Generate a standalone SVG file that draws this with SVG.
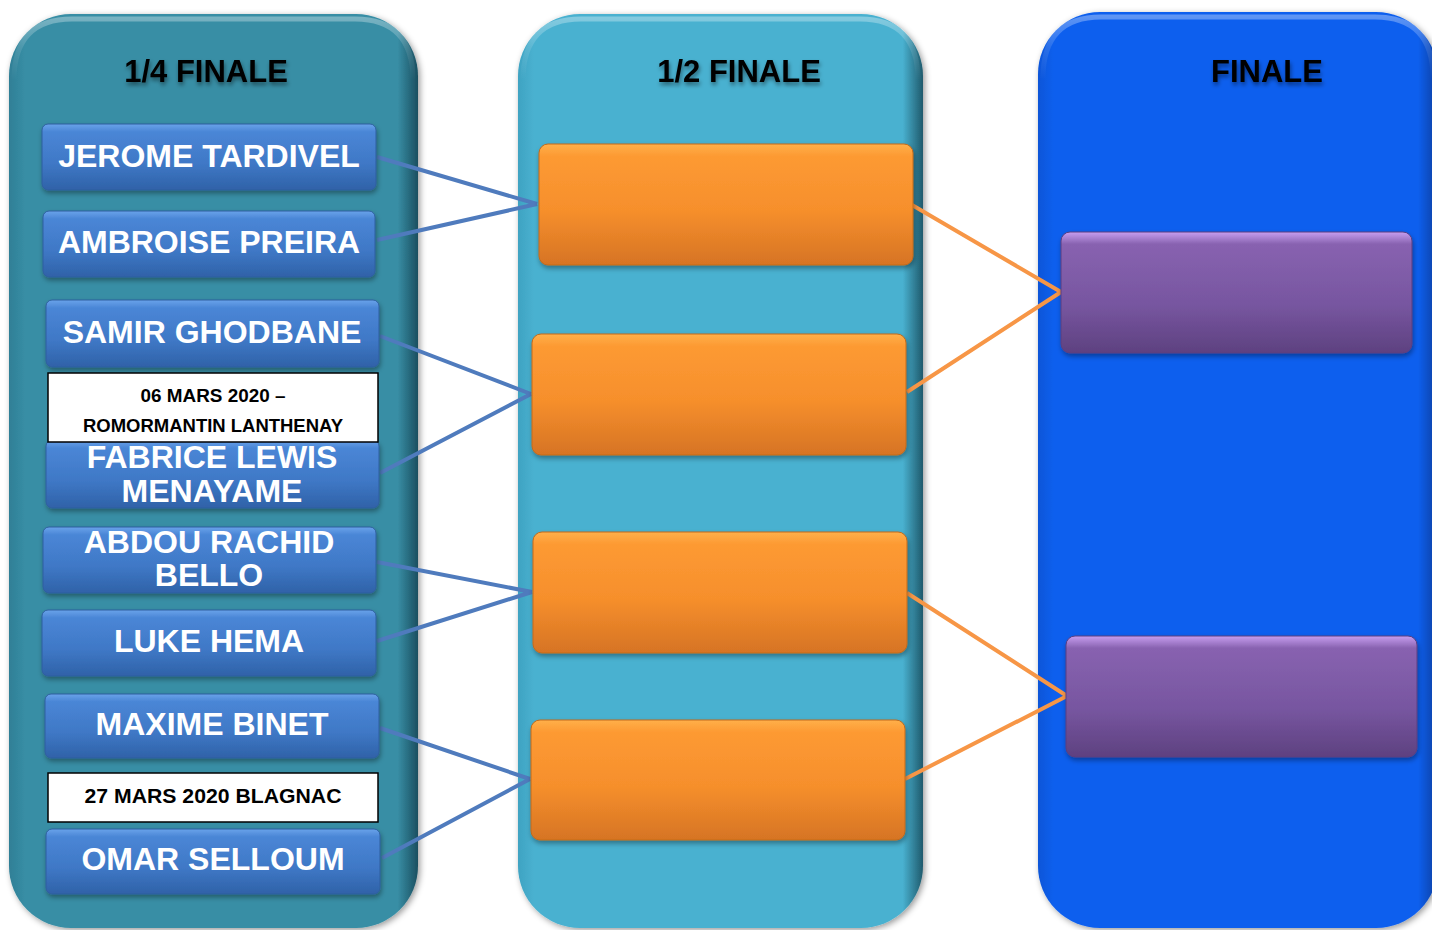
<svg xmlns="http://www.w3.org/2000/svg" width="1432" height="930" viewBox="0 0 1432 930">
<style>
.title{font-family:"Liberation Sans",Arial,sans-serif;font-weight:bold;font-size:31px;fill:#000;text-anchor:middle;filter:url(#tsh)}
.name{font-family:"Liberation Sans",Arial,sans-serif;font-weight:bold;font-size:32px;fill:#fff;text-anchor:middle}
.date{font-family:"Liberation Sans",Arial,sans-serif;font-weight:bold;fill:#000;text-anchor:middle}
.btn{fill:url(#gBlue);stroke:#2f5f9e;stroke-width:1;filter:url(#sh)}
.org{fill:url(#gOrange);stroke:#c46a1a;stroke-width:1;filter:url(#sh)}
.pur{fill:url(#gPurple);stroke:#5a3f80;stroke-width:1;filter:url(#sh)}
.hl{fill:none;stroke:url(#gHl);stroke-width:5}
.cb{stroke:#4f7bbd;stroke-width:4;fill:none}
.co{stroke:#f79646;stroke-width:4;fill:none}
.datebox{fill:#fff;stroke:#000;stroke-width:1.5}
</style>
<defs>
<linearGradient id="gHl" gradientUnits="userSpaceOnUse" x1="0" y1="14" x2="0" y2="80">
<stop offset="0" stop-color="#fff" stop-opacity="0.35"/><stop offset="0.5" stop-color="#fff" stop-opacity="0.12"/><stop offset="1" stop-color="#fff" stop-opacity="0"/>
</linearGradient>
<linearGradient id="gBlue" x1="0" y1="0" x2="0" y2="1">
<stop offset="0" stop-color="#6aa3ea"/><stop offset="0.12" stop-color="#4a86d6"/><stop offset="0.6" stop-color="#3f78c6"/><stop offset="1" stop-color="#2f62a8"/>
</linearGradient>
<linearGradient id="gOrange" x1="0" y1="0" x2="0" y2="1">
<stop offset="0" stop-color="#ffb04a"/><stop offset="0.1" stop-color="#fd9a33"/><stop offset="0.55" stop-color="#f68f2c"/><stop offset="1" stop-color="#d67424"/>
</linearGradient>
<linearGradient id="gPurple" x1="0" y1="0" x2="0" y2="1">
<stop offset="0" stop-color="#c79ef0"/><stop offset="0.1" stop-color="#8862b0"/><stop offset="0.6" stop-color="#7756a0"/><stop offset="1" stop-color="#5e4180"/>
</linearGradient>
<linearGradient id="gP1" x1="0" y1="0" x2="1" y2="0">
<stop offset="0" stop-color="#2f7f96"/><stop offset="0.04" stop-color="#388ea5"/><stop offset="0.95" stop-color="#388ea5"/><stop offset="1" stop-color="#1b4f60"/>
</linearGradient>
<linearGradient id="gP2" x1="0" y1="0" x2="1" y2="0">
<stop offset="0" stop-color="#3fa3c2"/><stop offset="0.04" stop-color="#49b1d0"/><stop offset="0.95" stop-color="#49b1d0"/><stop offset="1" stop-color="#1f5a6c"/>
</linearGradient>
<linearGradient id="gP3" x1="0" y1="0" x2="1" y2="0">
<stop offset="0" stop-color="#0a56d8"/><stop offset="0.04" stop-color="#0b5fee"/><stop offset="0.95" stop-color="#0b5fee"/><stop offset="1" stop-color="#083f9e"/>
</linearGradient>
<filter id="sh" x="-5%" y="-10%" width="110%" height="130%">
<feDropShadow dx="1" dy="3" stdDeviation="2.5" flood-color="#000" flood-opacity="0.35"/>
</filter>
<filter id="psh" x="-5%" y="-5%" width="110%" height="110%">
<feDropShadow dx="2" dy="2" stdDeviation="3" flood-color="#000" flood-opacity="0.4"/>
</filter>
<filter id="tsh" x="-10%" y="-20%" width="120%" height="160%">
<feDropShadow dx="1" dy="3" stdDeviation="2" flood-color="#000" flood-opacity="0.45"/>
</filter>
</defs>

<g id="panel-quarter">
<rect x="9" y="14" width="409" height="914" rx="62" fill="url(#gP1)" filter="url(#psh)"/>
<path d="M14,80 Q14,19 72,19 L355,19 Q413,19 413,80" class="hl"/>
<text class="title" x="206" y="82">1/4 FINALE</text>
</g>
<g id="panel-semi">
<rect x="518" y="14" width="405" height="914" rx="62" fill="url(#gP2)" filter="url(#psh)"/>
<path d="M523,80 Q523,19 581,19 L860,19 Q918,19 918,80" class="hl"/>
<text class="title" x="739" y="82">1/2 FINALE</text>
</g>
<g id="panel-final">
<rect x="1038" y="12" width="400" height="916" rx="62" fill="url(#gP3)" filter="url(#psh)"/>
<path d="M1043,78 Q1043,17 1101,17 L1375,17 Q1433,17 1433,78" class="hl"/>
<text class="title" x="1267" y="82">FINALE</text>
</g>

<g id="connectors">
<path class="cb" d="M377,157 L537,204 M377,240 L537,204"/>
<path class="cb" d="M380,336 L531,394 M380,473 L531,394"/>
<path class="cb" d="M377,562 L532,592 M377,641 L532,592"/>
<path class="cb" d="M380,728 L530,779 M382,858 L530,779"/>
<path class="co" d="M912,205 L1061,292 M907,392 L1061,292"/>
<path class="co" d="M907,593 L1067,696 M905,779 L1067,696"/>
</g>

<g id="p-tardivel"><rect class="btn" x="42" y="124" width="334" height="66" rx="6"/><text class="name" x="209" y="167">JEROME TARDIVEL</text></g>
<g id="p-preira"><rect class="btn" x="43" y="211" width="332" height="66" rx="6"/><text class="name" x="209" y="253">AMBROISE PREIRA</text></g>
<g id="p-ghodbane"><rect class="btn" x="46" y="300" width="333" height="67" rx="6"/><text class="name" x="212" y="343">SAMIR GHODBANE</text></g>
<g id="p-menayame"><rect class="btn" x="46" y="440" width="333" height="68" rx="6"/><text class="name" x="212" y="468">FABRICE LEWIS</text><text class="name" x="212" y="502">MENAYAME</text></g>
<g id="date-1"><rect class="datebox" x="48" y="373" width="330" height="69"/><text class="date" x="213" y="402" font-size="18" textLength="145" lengthAdjust="spacingAndGlyphs">06 MARS 2020 –</text><text class="date" x="213" y="432" font-size="18" textLength="260" lengthAdjust="spacingAndGlyphs">ROMORMANTIN LANTHENAY</text></g>
<g id="p-bello"><rect class="btn" x="43" y="527" width="333" height="66" rx="6"/><text class="name" x="209" y="553">ABDOU RACHID</text><text class="name" x="209" y="586">BELLO</text></g>
<g id="p-hema"><rect class="btn" x="42" y="610" width="334" height="66" rx="6"/><text class="name" x="209" y="652">LUKE HEMA</text></g>
<g id="p-binet"><rect class="btn" x="45" y="694" width="334" height="64" rx="6"/><text class="name" x="212" y="735">MAXIME BINET</text></g>
<g id="date-2"><rect class="datebox" x="48" y="773" width="330" height="49"/><text class="date" x="213" y="803" font-size="20" textLength="257" lengthAdjust="spacingAndGlyphs">27 MARS 2020 BLAGNAC</text></g>
<g id="p-selloum"><rect class="btn" x="46" y="829" width="334" height="65" rx="6"/><text class="name" x="213" y="870">OMAR SELLOUM</text></g>

<g id="semi-1"><rect class="org" x="539" y="144" width="374" height="121" rx="9"/></g>
<g id="semi-2"><rect class="org" x="532" y="334" width="374" height="121" rx="9"/></g>
<g id="semi-3"><rect class="org" x="533" y="532" width="374" height="121" rx="9"/></g>
<g id="semi-4"><rect class="org" x="531" y="720" width="374" height="120" rx="9"/></g>

<g id="final-1"><rect class="pur" x="1061" y="232" width="351" height="121" rx="9"/></g>
<g id="final-2"><rect class="pur" x="1066" y="636" width="351" height="121" rx="9"/></g>
</svg>
